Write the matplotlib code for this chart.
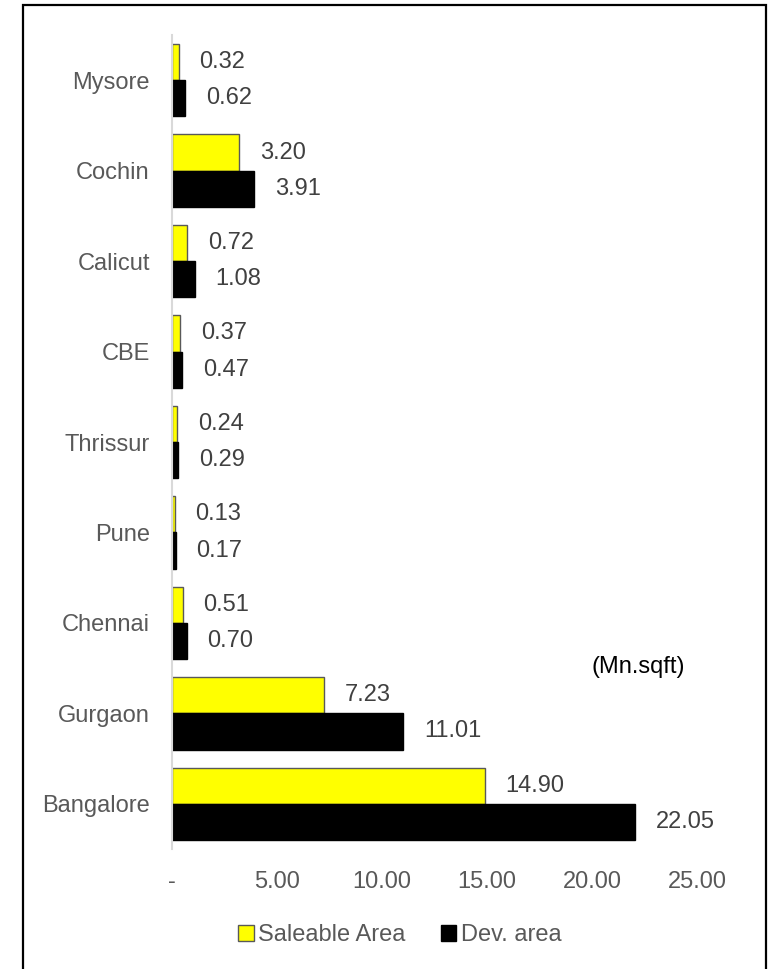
import matplotlib.pyplot as plt
from matplotlib.patches import Rectangle, Patch
from matplotlib.ticker import FuncFormatter
import numpy as np

cities = ["Bangalore", "Gurgaon", "Chennai", "Pune", "Thrissur", "CBE", "Calicut", "Cochin", "Mysore"]
saleable = [14.90, 7.23, 0.51, 0.13, 0.24, 0.37, 0.72, 3.20, 0.32]
dev_area = [22.05, 11.01, 0.70, 0.17, 0.29, 0.47, 1.08, 3.91, 0.62]
xticks = [0, 5, 10, 15, 20, 25]

plt.rcParams['font.family'] = ['Liberation Sans', 'DejaVu Sans']
grey = '#595959'
fs = 17

fig = plt.figure(figsize=(7.69, 9.69), dpi=100)
ax = fig.add_axes([0.2237, 0.1238, 0.6826, 0.8401])

y = np.arange(len(cities))
h = 0.4
bars_s = ax.barh(y + h / 2, saleable, height=h, color='#FFFF00', edgecolor=grey, linewidth=1)
bars_d = ax.barh(y - h / 2, dev_area, height=h, color='black', edgecolor='black', linewidth=1)

for bars, vals in ((bars_s, saleable), (bars_d, dev_area)):
    for b, v in zip(bars, vals):
        ax.annotate(f'{v:.2f}', (b.get_width(), b.get_y() + b.get_height() / 2),
                    xytext=(15, 0), textcoords='offset points', ha='left', va='center',
                    fontsize=fs, color='#404040')

ax.set_xlim(0, 25)
ax.set_ylim(-0.5, len(cities) - 0.5)
ax.set_xticks(xticks)
ax.xaxis.set_major_formatter(FuncFormatter(lambda v, p: '-' if v == 0 else f'{v:.2f}'))
ax.set_yticks(y)
ax.set_yticklabels(cities)
ax.tick_params(axis='both', length=0, labelsize=fs, labelcolor=grey)
ax.tick_params(axis='x', pad=16)
ax.tick_params(axis='y', pad=16)
for s in ('top', 'right', 'bottom'):
    ax.spines[s].set_visible(False)
ax.spines['left'].set_color('#D9D9D9')
ax.spines['left'].set_linewidth(1.5)

ax.text(0.8, 0.2236, '(Mn.sqft)', transform=ax.transAxes, ha='left', va='center',
        fontsize=fs, color='black')

handles = [Patch(facecolor='#FFFF00', edgecolor=grey, label='Saleable Area'),
           Patch(facecolor='black', edgecolor='black', label='Dev. area')]
fig.legend(handles=handles, loc='center', bbox_to_anchor=(400 / 769, 1 - 935 / 969), ncol=2,
           frameon=False, fontsize=fs, handlelength=0.65, handleheight=0.65,
           handletextpad=0.2, columnspacing=1.5, labelcolor=grey)

fig.patches.append(Rectangle((23 / 769, -0.05), (766 - 23) / 769, 1 - 5 / 969 + 0.05,
                             transform=fig.transFigure, fill=False, edgecolor='black',
                             linewidth=1.6, clip_on=False))

fig.savefig('out.png', dpi=100)
